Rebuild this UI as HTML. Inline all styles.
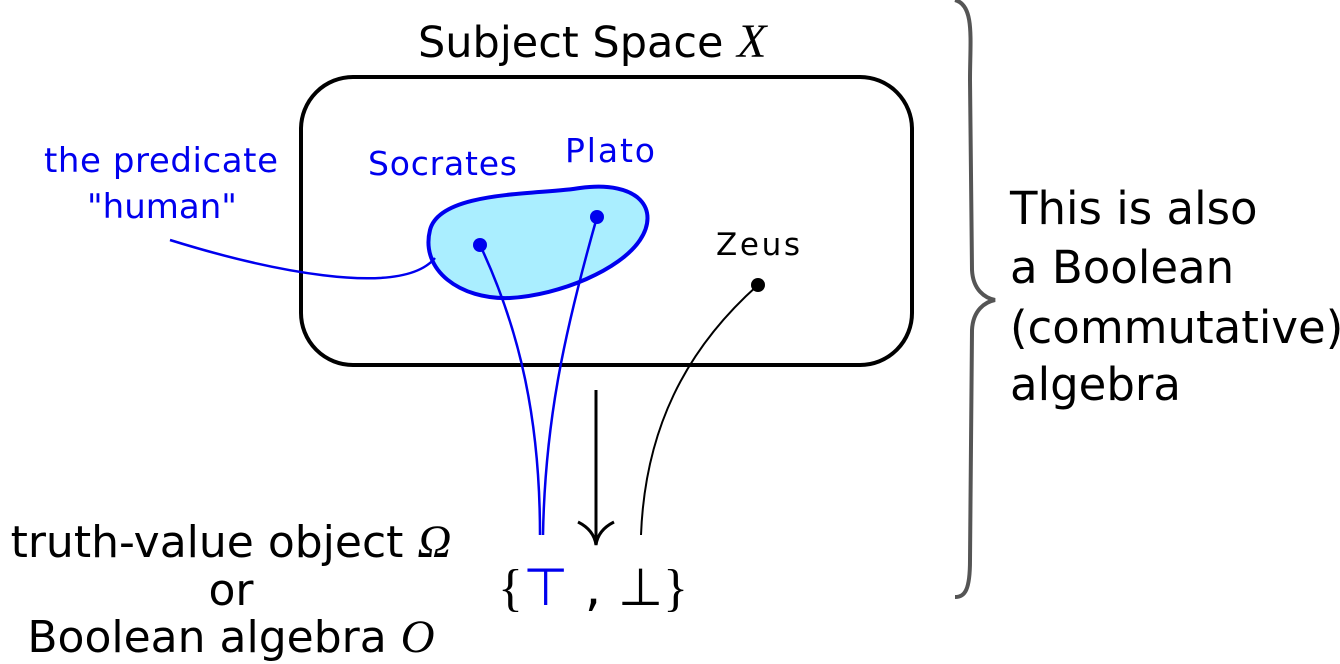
<!DOCTYPE html>
<html><head><meta charset="utf-8"><style>
html,body{margin:0;padding:0;background:#fff;}
svg{display:block;}
text{font-family:"DejaVu Sans","Liberation Sans",sans-serif;}
.it{font-family:"Liberation Serif",serif;font-style:italic;}
</style></head><body>
<svg width="1340" height="664" viewBox="0 0 1340 664">
<text x="418" y="57" font-size="43">Subject Space <tspan class="it" font-size="48">X</tspan></text>
<rect x="301" y="77" width="611" height="288" rx="52" fill="none" stroke="#000" stroke-width="4"/>
<path d="M430,230 C440,190 540,195 580,188 C640,180 660,210 640,240 C620,270 560,295 510,298 C460,300 420,270 430,230 Z" fill="#aaeeff" stroke="#0000ee" stroke-width="4"/>
<g fill="none" stroke="#0000ee" stroke-width="2.5">
<path d="M170,240 C260,268 400,300 435,258"/>
<path d="M480,245 C520,330 540,420 540,535"/>
<path d="M597,217 C565,330 545,420 543,535"/>
</g>
<path d="M758,285 C685,350 645,430 641,535" fill="none" stroke="#000" stroke-width="2"/>
<circle cx="480" cy="245" r="7" fill="#0000ee"/>
<circle cx="597" cy="217" r="7" fill="#0000ee"/>
<circle cx="758" cy="285" r="7" fill="#000"/>
<text x="44" y="172" font-size="34" fill="#0000ee" textLength="234">the predicate</text>
<text x="162" y="218" font-size="34" fill="#0000ee" text-anchor="middle">"human"</text>
<text x="368" y="175" font-size="33" fill="#0000ee" textLength="149">Socrates</text>
<text x="565" y="162" font-size="33" fill="#0000ee" textLength="90">Plato</text>
<text x="716" y="255" font-size="31" fill="#000" textLength="84">Zeus</text>
<path d="M596,390 L596,540" stroke="#000" stroke-width="3" fill="none"/>
<path d="M578,522 Q594,530 596,545 Q598,530 614,522" stroke="#000" stroke-width="3" fill="none"/>
<text x="498" y="605" font-size="52"><tspan font-family="Liberation Serif,serif">{</tspan><tspan fill="#0000ee">⊤</tspan> , ⊥<tspan font-family="Liberation Serif,serif">}</tspan></text>
<text x="231" y="557" font-size="44" text-anchor="middle">truth-value object <tspan class="it" font-size="47">Ω</tspan></text>
<text x="231" y="605" font-size="44" text-anchor="middle">or</text>
<text x="231" y="652" font-size="44" text-anchor="middle">Boolean algebra <tspan class="it" font-size="47">O</tspan></text>
<path d="M955,0 C975,5 970,40 970,80 L972,270 C973,290 985,298 995,300 C985,302 973,310 972,330 L970,560 C970,590 965,597 955,597" fill="none" stroke="#555" stroke-width="4"/>
<g font-size="45">
<text x="1010" y="224">This is also</text>
<text x="1010" y="283">a Boolean</text>
<text x="1010" y="343">(commutative)</text>
<text x="1010" y="400">algebra</text>
</g>
</svg>
</body></html>
